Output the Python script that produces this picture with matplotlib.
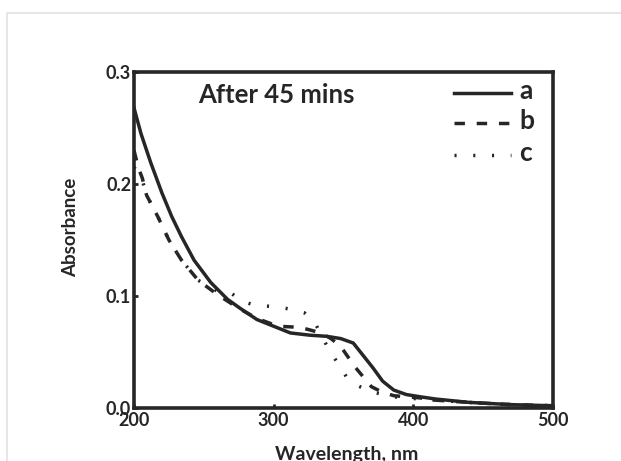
import matplotlib
matplotlib.use("Agg")
import matplotlib.pyplot as plt
from matplotlib.patches import Rectangle
from matplotlib.lines import Line2D

plt.rcParams['font.family'] = ['Lato', 'DejaVu Sans']

# Wavelength (nm) and absorbance
wl_a = [200, 205, 212, 220, 227, 234, 243, 255, 267, 276, 288, 300, 312, 326,
        338, 348, 357, 364, 371, 378, 386, 395, 405, 416, 440, 470, 500]
abs_a = [0.268, 0.245, 0.219, 0.192, 0.171, 0.153, 0.132, 0.112, 0.097, 0.089,
         0.079, 0.073, 0.067, 0.065, 0.064, 0.062, 0.058, 0.047, 0.036, 0.024,
         0.016, 0.012, 0.010, 0.008, 0.005, 0.003, 0.002]

wl_b = [200, 203, 206, 209, 217, 225, 234, 246, 260, 275, 288, 303, 319, 334,
        341, 348, 358, 370, 378, 386, 395, 405, 416, 440, 470, 500]
abs_b = [0.230, 0.215, 0.205, 0.190, 0.171, 0.150, 0.132, 0.114, 0.101, 0.089,
         0.080, 0.073, 0.072, 0.067, 0.062, 0.055, 0.037, 0.019, 0.014, 0.011,
         0.010, 0.009, 0.007, 0.005, 0.003, 0.002]

wl_c = [200, 203, 206, 209, 217, 225, 234, 246, 260, 269, 278, 286, 304, 313,
        322, 330, 340, 346, 352, 360, 369, 378, 386, 395, 405, 416, 440, 470, 500]
abs_c = [0.215, 0.210, 0.203, 0.190, 0.171, 0.150, 0.132, 0.114, 0.104, 0.103,
         0.095, 0.092, 0.090, 0.088, 0.085, 0.075, 0.051, 0.040, 0.028, 0.020,
         0.015, 0.012, 0.010, 0.009, 0.008, 0.007, 0.005, 0.003, 0.002]

series_labels = ['a', 'b', 'c']
x_ticks = [200, 300, 400, 500]
y_ticks = [0.0, 0.1, 0.2, 0.3]

ink = '#262626'

fig = plt.figure(figsize=(6.21, 4.61), dpi=100)

# light grey frame around the figure panel
fig.patches.append(Rectangle((7 / 621, -0.1), 1.2, 1.1 - 13 / 461,
                             transform=fig.transFigure, fill=False,
                             edgecolor='#e2e2e2', linewidth=1.2))

ax = fig.add_axes([134 / 621, 53 / 461, 419 / 621, 336 / 461])

styles = ['-', (0, (3.0, 3.4)), (0, (0.6, 4.8))]
lw = 2.5
for xs, ys, ls in zip([wl_a, wl_b, wl_c], [abs_a, abs_b, abs_c], styles):
    ax.plot(xs, ys, color=ink, linestyle=ls, linewidth=lw)

ax.set_xlim(200, 500)
ax.set_ylim(0, 0.3)
ax.set_xticks(x_ticks)
ax.set_xticklabels([str(t) for t in x_ticks])
ax.set_yticks(y_ticks)
ax.set_yticklabels(['%.1f' % t for t in y_ticks])
ax.tick_params(direction='in', length=3, width=2, color=ink, labelcolor=ink,
               labelsize=13)
ax.tick_params(axis='x', pad=3)
ax.tick_params(axis='y', pad=2)
for lab in ax.get_xticklabels() + ax.get_yticklabels():
    lab.set_fontweight('bold')
for s in ax.spines.values():
    s.set_linewidth(2.6)
    s.set_color(ink)

fig.text(71 / 621, 1 - 227 / 461, 'Absorbance', rotation=90, ha='center',
         va='center', fontsize=13.5, color=ink, fontweight='bold')
fig.text(347 / 621, 1 - 446 / 461, 'Wavelength, nm', ha='center', va='top',
         fontsize=14, color=ink, fontweight='bold')

ax.text(0.153, 0.908, 'After 45 mins', transform=ax.transAxes, fontsize=18.5,
        color=ink, fontweight='bold', va='baseline')

# legend drawn by hand to match the original placement
leg_y = [0.9375, 0.848, 0.753]
for lab, ls, y in zip(series_labels, styles, leg_y):
    ax.add_line(Line2D([0.764, 0.90], [y, y], transform=ax.transAxes,
                       color=ink, linestyle=ls, linewidth=lw))
    ax.text(0.919, y - 0.018, lab, transform=ax.transAxes, fontsize=19,
            color=ink, fontweight='bold', va='baseline')

fig.savefig('out.png', dpi=100)
